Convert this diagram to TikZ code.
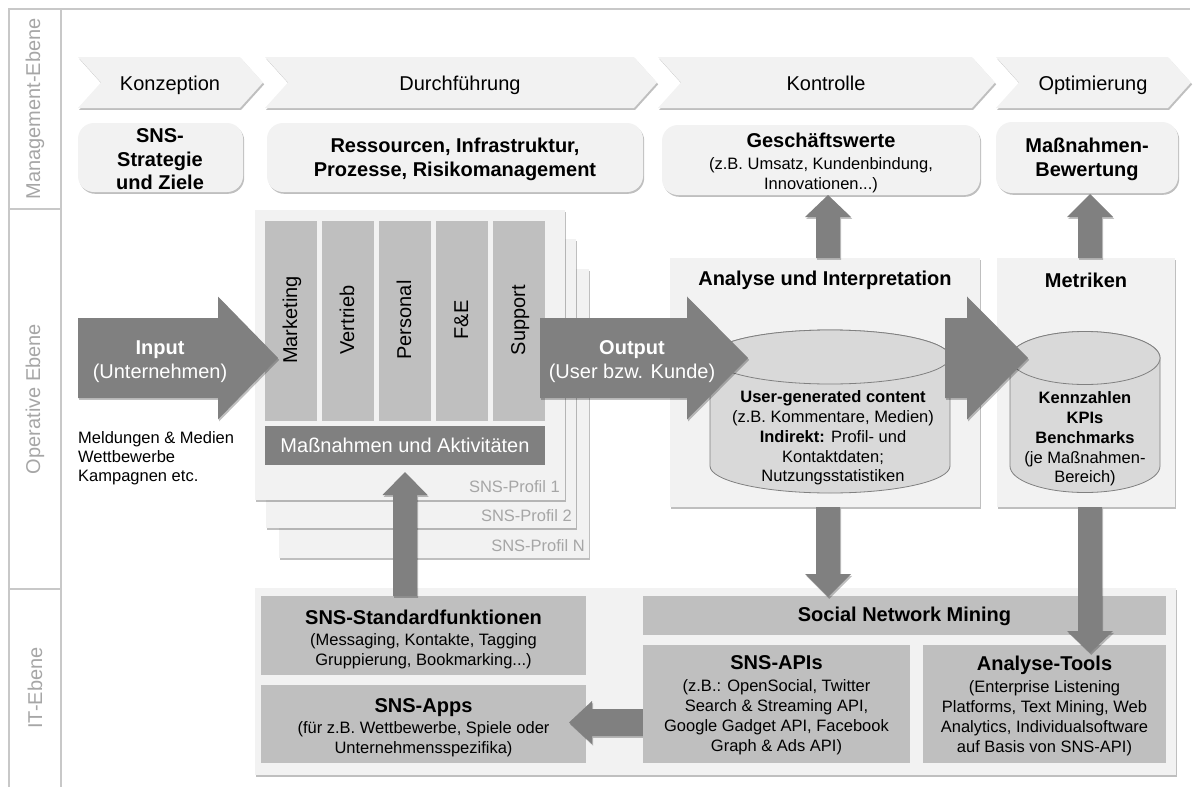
\documentclass[tikz,border=0pt]{standalone}
\usepackage{fontspec}
\setmainfont{Liberation Sans}
\usetikzlibrary{fit,shadows}
\definecolor{lgray}{HTML}{F2F2F2}
\definecolor{mgray}{HTML}{BFBFBF}
\definecolor{dgray}{HTML}{808080}
\definecolor{cylgray}{HTML}{D9D9D9}
\definecolor{framegray}{HTML}{C8C8C8}
\definecolor{labgray}{HTML}{A6A6A6}
\newcommand\fbig{\fontsize{20}{24}\selectfont}
\newcommand\fsmall{\fontsize{16.5}{20}\selectfont}
% horizontal block arrow: x start, x head base, x tip, y mid, body half, head half
\newcommand\blockh[6]{\path[arr] (#1,{#4-#5}) -- (#2,{#4-#5}) -- (#2,{#4-#6}) -- (#3,#4) -- (#2,{#4+#6}) -- (#2,{#4+#5}) -- (#1,{#4+#5}) -- cycle;}
% vertical block arrow: y start, y head base, y tip, x mid, body half, head half
\newcommand\blockv[6]{\path[arr] ({#4-#5},#1) -- ({#4-#5},#2) -- ({#4-#6},#2) -- (#4,#3) -- ({#4+#6},#2) -- ({#4+#5},#2) -- ({#4+#5},#1) -- cycle;}
\newcommand\chevron[2]{\path[chev] (#1,57) -- (#2,57) -- ({#2+23},82.5) -- (#2,108) -- (#1,108) -- ({#1+23},82.5) -- cycle;}
\begin{document}
\begin{tikzpicture}[x=1pt,y=-1pt,
 shd/.style={drop shadow={shadow xshift=1.2pt,shadow yshift=-1.8pt,opacity=0.25,fill=black}},
 lbox/.style={fill=lgray,draw=none,inner sep=0,outer sep=0,shd},
 rbox/.style={lbox,rounded corners=16pt},
 mbox/.style={fill=mgray,draw=none,inner sep=0,outer sep=0},
 chev/.style={fill=lgray,shd},
 arr/.style={fill=dgray,shd},
 big/.style={font=\fbig,inner sep=0,align=center},
 small/.style={font=\fsmall,inner sep=0,align=center},
 layerlab/.style={font=\fbig,text=labgray,rotate=90,inner sep=0},
 coltext/.style={font=\fbig,rotate=90,inner sep=0,text height=14.5pt,text depth=4.2pt},
 frame/.style={draw=framegray,line width=1.2pt},
 cyl/.style={fill=cylgray,draw=dgray,line width=0.8pt},
 proflab/.style={font=\fsmall,text=labgray,inner sep=0,anchor=base east}
]
\useasboundingbox (0,0) rectangle (1197,787);
% frame and layer labels
\draw[frame] (9,787) -- (9,9) -- (1190,9);
\draw[frame] (61,9) -- (61,787);
\draw[frame] (9,209) -- (61,209);
\draw[frame] (9,589) -- (61,589);
\node[layerlab] (lm) at (35,109) {Management-Ebene};
\node[layerlab] (lo) at (35,399) {Operative Ebene};
\node[layerlab] (li) at (35,688) {IT-Ebene};

% chevrons
\chevron{78}{240}
\chevron{265}{634}
\chevron{658}{972}
\chevron{996}{1168}
\node[big,anchor=base] (c1) at (170,90) {Konzeption};
\node[big,anchor=base] (c2) at (460,90) {Durchführung};
\node[big,anchor=base] (c3) at (826,90) {Kontrolle};
\node[big,anchor=base] (c4) at (1093,90) {Optimierung};

% management boxes
\node[rbox, fit={(78,123) (243,192)}] (b1) {};
\node[rbox, fit={(267,123) (643,192)}] (b2) {};
\node[rbox, fit={(662,125) (980,195)}] (b3) {};
\node[rbox, fit={(996,122) (1178,193)}] (b4) {};
\node[big,font=\fontsize{20}{23.5}\selectfont\bfseries] (t1) at (160,159.5) {SNS-\\Strategie\\und Ziele};
\node[big,font=\fbig\bfseries] (t2) at (455,159.5) {Ressourcen, Infrastruktur,\\Prozesse, Risikomanagement};
\node[small] (t3) at (821,163) {{\fbig\bfseries Geschäftswerte}\\[2pt](z.B. Umsatz, Kundenbindung,\\Innovationen...)};
\node[big,font=\fbig\bfseries] (t4) at (1087,159.5) {Maßnahmen-\\Bewertung};

% SNS profiles
\node[lbox, fit={(279,269) (589,558)}] (pN) {};
\node[lbox, fit={(266,239) (576,528)}] (p2) {};
\node[lbox, fit={(255,210) (565,500)}] (p1) {};
\node[proflab] (lp1) at (560,492) {SNS-Profil 1};
\node[proflab] (lp2) at (572,521) {SNS-Profil 2};
\node[proflab] (lpN) at (585,551) {SNS-Profil N};
\foreach \i/\t in {0/Marketing,1/Vertrieb,2/Personal,3/F\&E,4/Support}{
  \node[mbox, fit={({265+57*\i},221) ({317+57*\i},421)}] (col\i) {};
  \node[coltext] (colt\i) at ({292+57*\i},320) {\t};
}
\node[fit={(265,426) (545,465)}, fill=dgray, inner sep=0, outer sep=0] (mass) {};
\node[big,text=white,anchor=base] (masst) at (405,452) {Maßnahmen und Aktivitäten};

% analyse and metriken boxes
\node[lbox, fit={(670,258) (980,507)}] (ana) {};
\node[lbox, fit={(997,258) (1175,507)}] (met) {};
\node[big,font=\fbig\bfseries,anchor=base] (anat) at (825,285) {Analyse und Interpretation};
\node[big,font=\fbig\bfseries,anchor=base] (mett) at (1086,287) {Metriken};

% cylinders
\path[cyl] (710,357) -- (710,466) arc[start angle=180,end angle=360,x radius=120pt,y radius=27pt] -- (950,357) arc[start angle=0,end angle=180,x radius=120pt,y radius=27pt] -- cycle;
\path[cyl] (830,357) ellipse[x radius=120pt,y radius=27pt];
\path[cyl] (1010,358) -- (1010,466) arc[start angle=180,end angle=360,x radius=75pt,y radius=26.5pt] -- (1160,358) arc[start angle=0,end angle=180,x radius=75pt,y radius=26.5pt] -- cycle;
\path[cyl] (1085,358) ellipse[x radius=75pt,y radius=26.5pt];
\node[small,font=\fontsize{16.5}{19.75}\selectfont] (cy1) at (833,438) {\textbf{User-generated content}\\(z.B. Kommentare, Medien)\\\textbf{Indirekt:} Profil- und\\Kontaktdaten;\\Nutzungsstatistiken};
\node[small,font=\fontsize{16.5}{19.75}\selectfont] (cy2) at (1085,439) {\textbf{Kennzahlen}\\\textbf{KPIs}\\\textbf{Benchmarks}\\(je Maßnahmen-\\Bereich)};

% operative arrows
\blockh{78}{218}{278}{358}{40}{61.5}
\blockh{540}{687}{748}{358}{40}{61.5}
\blockh{945}{967}{1028}{358}{40}{61.5}
\node[big,text=white] (inp) at (160,361.5) {\textbf{Input}\\(Unternehmen)};
\node[big,text=white] (outp) at (632,361.5) {\textbf{Output}\\(User bzw. Kunde)};
\node[small,font=\fontsize{16.5}{19}\selectfont,align=left,anchor=north west] (meld) at (78,431) {Meldungen \& Medien\\Wettbewerbe\\Kampagnen etc.};

% up arrows to management
\blockv{258}{217}{195}{828}{12}{23}
\blockv{258}{217}{194}{1090}{12}{23}

% IT level
\node[lbox, fit={(255,588) (1176,775)}] (itc) {};
\node[mbox, fit={(261,596) (586,675)}] (std) {};
\node[mbox, fit={(261,685) (586,763)}] (apps) {};
\node[mbox, fit={(643,596) (1166,635)}] (snm) {};
\blockh{650}{592}{569}{722.5}{13.5}{21.5}
\node[mbox, fit={(643,645) (910,763)}] (apis) {};
\node[mbox, fit={(923,645) (1166,763)}] (tools) {};
\node[small] (stdt) at (423.5,639.5) {{\fbig\bfseries SNS-Standardfunktionen}\\[1pt](Messaging, Kontakte, Tagging\\Gruppierung, Bookmarking...)};
\node[small] (appst) at (423.5,728) {{\fbig\bfseries SNS-Apps}\\[1pt](für z.B. Wettbewerbe, Spiele oder\\Unternehmensspezifika)};
\node[big,font=\fbig\bfseries,anchor=base] (snmt) at (904.5,621) {Social Network Mining};
\node[small] (apist) at (776.5,705.5) {{\fbig\bfseries SNS-APIs}\\[2pt](z.B.: OpenSocial, Twitter\\Search \& Streaming API,\\Google Gadget API, Facebook\\Graph \& Ads API)};
\node[small] (toolst) at (1044.5,705.5) {{\fbig\bfseries Analyse-Tools}\\[2pt](Enterprise Listening\\Platforms, Text Mining, Web\\Analytics, Individualsoftware\\auf Basis von SNS-API)};

% vertical arrows between levels
\blockv{507}{574}{597}{828}{12}{23}
\blockv{507}{631}{653}{1090}{12}{23}
\blockv{596}{495}{472}{405}{12}{22.5}
\end{tikzpicture}
\end{document}
